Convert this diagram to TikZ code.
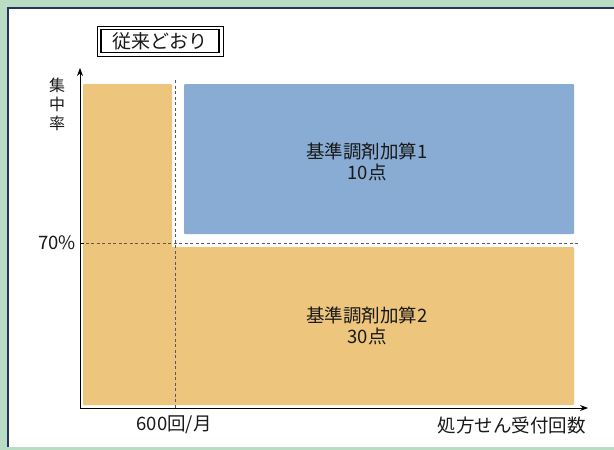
\documentclass[tikz,border=0pt]{standalone}
\usepackage{fontspec}
\setmainfont{Noto Sans CJK JP}
\usetikzlibrary{arrows.meta}
\definecolor{bggreen}{RGB}{184,220,196}
\definecolor{framenavy}{RGB}{40,50,90}
\definecolor{orng}{RGB}{238,197,125}
\definecolor{blu}{RGB}{137,172,212}
\definecolor{txt}{RGB}{25,25,25}
\tikzset{
  region/.style={draw=none, rounded corners=1pt},
  lbl/.style={text=txt, inner sep=0pt, font=\fontsize{18.5}{21}\selectfont},
  vlbl/.style={text=txt, inner sep=0pt, font=\fontsize{16}{18}\selectfont},
  axis/.style={line width=1pt, draw=black, -{Stealth[length=8pt,width=6pt]}},
  guide/.style={line width=1pt, draw=black!65, dash pattern=on 3pt off 2.5pt},
}
\begin{document}
\begin{tikzpicture}[x=1pt,y=-1pt]
\useasboundingbox (0,0) rectangle (614,450);
\fill[bggreen] (0,0) rectangle (614,450);
\fill[white] (8,8) rectangle (614,447);
\draw[framenavy, line width=1.2pt] (8,447) -- (8,8) -- (614,8);
% title box
\draw[black, line width=0.8pt] (97,26) rectangle (223,56);
\draw[black, line width=1.2pt] (101,29.5) rectangle (219,52.5);
\node[lbl, font=\fontsize{19}{21}\selectfont] (title) at (160,41) {従来どおり};
% regions
\fill[orng, region] (83,84) rectangle (172,405);
\fill[orng, region] (83,247) rectangle (574,405);
\fill[blu, region] (184,84) rectangle (574,234);
% guides
\coordinate (gx0) at (80,243);
\coordinate (gx1) at (580,243);
\coordinate (gy0) at (175,80);
\coordinate (gy1) at (175,408);
\draw[guide] (gx0) -- (gx1);
\draw[guide] (gy0) -- (gy1);
% axes
\coordinate (o) at (80,408);
\coordinate (ytip) at (80,68);
\coordinate (xtip) at (588,408);
\draw[axis] (o) -- (ytip);
\draw[axis] (o) -- (xtip);
\draw[line width=1pt] (80,243) -- (84,243);
% labels
\node[vlbl] (yl1) at (57,85) {集};
\node[vlbl] (yl2) at (57,104) {中};
\node[vlbl] (yl3) at (57,123) {率};
\node[lbl, anchor=east] (p70) at (76,243) {70\%};
\node[lbl] (x600) at (174,425) {600回/月};
\node[lbl, anchor=east] (xl) at (586,425) {処方せん受付回数};
\node[lbl, align=center] (b1) at (367,162) {基準調剤加算1\\[0pt]10点};
\node[lbl, align=center] (b2) at (367,326) {基準調剤加算2\\[0pt]30点};
\end{tikzpicture}
\end{document}
